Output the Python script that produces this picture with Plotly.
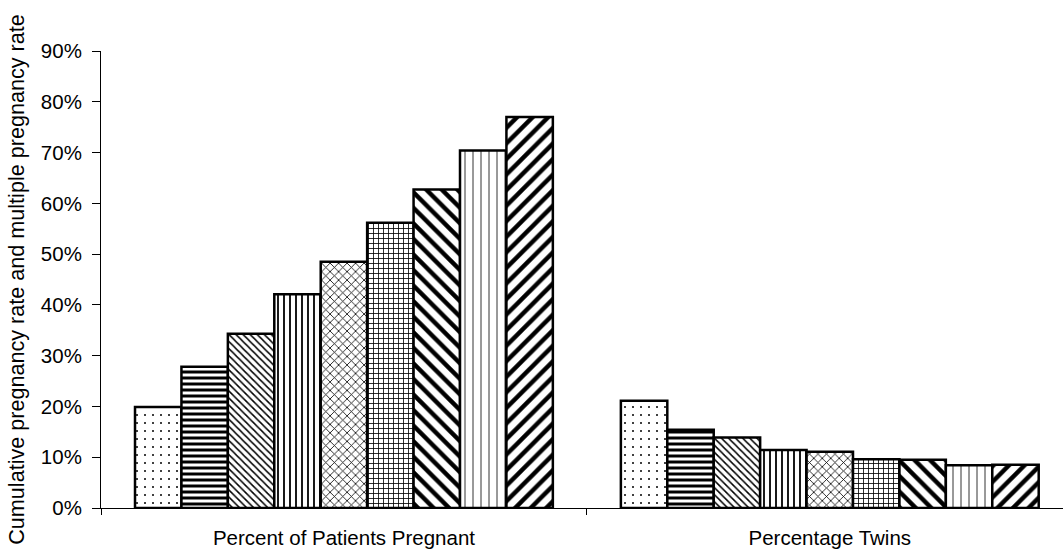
import plotly.graph_objects as go

categories = ["Percent of Patients Pregnant", "Percentage Twins"]
series_names = ["S1", "S2", "S3", "S4", "S5", "S6", "S7", "S8", "S9"]
pregnant = [19.9, 27.8, 34.3, 42.1, 48.5, 56.2, 62.7, 70.4, 77.0]
twins = [21.1, 15.4, 13.9, 11.4, 11.1, 9.6, 9.5, 8.4, 8.5]

patterns = [
    dict(shape=".", size=8, solidity=0.05),
    dict(shape="-", size=6, solidity=0.5),
    dict(shape="\\", size=5, solidity=0.3),
    dict(shape="|", size=6, solidity=0.3),
    dict(shape="x", size=6, solidity=0.25),
    dict(shape="+", size=5, solidity=0.3),
    dict(shape="\\", size=11, solidity=0.4),
    dict(shape="|", size=8, solidity=0.1),
    dict(shape="/", size=11, solidity=0.4),
]

fig = go.Figure()
for i, name in enumerate(series_names):
    p = patterns[i]
    fig.add_trace(go.Bar(
        x=categories,
        y=[pregnant[i] / 100, twins[i] / 100],
        name=name,
        marker=dict(
            color="white",
            line=dict(color="black", width=2.5),
            pattern=dict(shape=p["shape"], size=p["size"], solidity=p["solidity"],
                         fgcolor="black", bgcolor="white", fillmode="replace"),
        ),
    ))

fig.update_layout(
    barmode="group",
    bargap=0.14,
    bargroupgap=0,
    showlegend=False,
    width=1063,
    height=550,
    margin=dict(l=101, r=0, t=51, b=42),
    paper_bgcolor="white",
    plot_bgcolor="white",
    font=dict(family="Liberation Sans, Arial, sans-serif", size=20.5, color="black"),
)
fig.update_yaxes(
    range=[0, 0.9],
    tickvals=[i / 10 for i in range(10)],
    tickformat=".0%",
    showgrid=False,
    showline=True,
    linecolor="black",
    linewidth=1,
    ticks="outside",
    ticklen=8,
    tickcolor="black",
    ticklabelstandoff=6,
    zeroline=False,
    title=dict(text="Cumulative pregnancy rate and multiple pregnancy rate",
               font=dict(size=21.6), standoff=10),
)
fig.update_xaxes(
    range=[-0.5, 1.48],
    showgrid=False,
    showline=True,
    linecolor="black",
    linewidth=1,
    ticks="outside",
    tickson="boundaries",
    ticklen=6,
    tickcolor="black",
    ticklabelstandoff=11,
)

fig.write_html("out.html", config={"displayModeBar": False},
               post_script="document.body.style.margin='0';document.body.style.padding='0';")
